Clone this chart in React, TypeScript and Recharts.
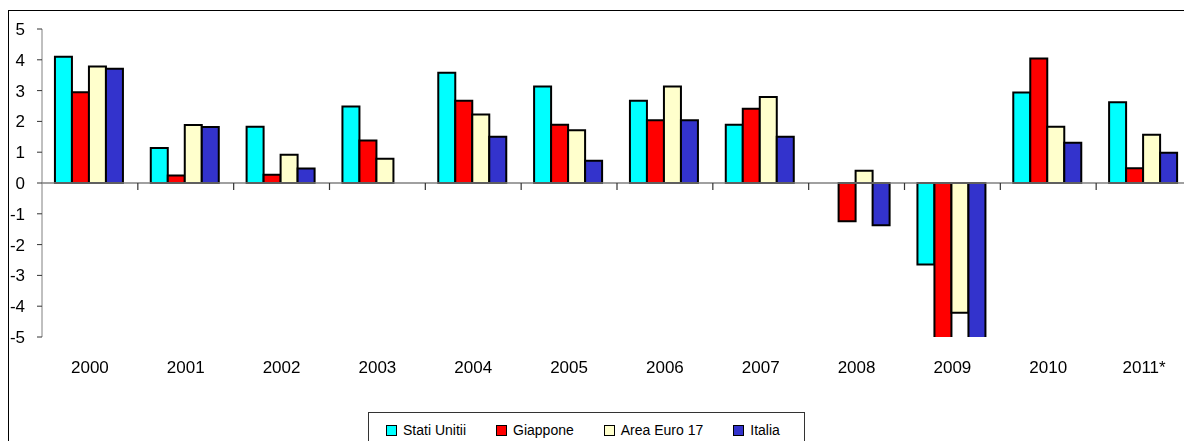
import React from 'react'
import { BarChart, Bar, XAxis, YAxis, ReferenceLine } from 'recharts'

const YEARS = ['2000', '2001', '2002', '2003', '2004', '2005', '2006', '2007', '2008', '2009', '2010', '2011*']

const statiUniti = [4.1, 1.14, 1.83, 2.48, 3.58, 3.13, 2.67, 1.89, 0, -2.65, 2.94, 2.62]
const giappone = [2.95, 0.24, 0.27, 1.38, 2.67, 1.89, 2.04, 2.41, -1.24, -6.3, 4.04, 0.48]
const areaEuro = [3.78, 1.88, 0.92, 0.79, 2.22, 1.71, 3.13, 2.79, 0.4, -4.21, 1.83, 1.57]
const italia = [3.71, 1.82, 0.47, 0, 1.5, 0.72, 2.04, 1.5, -1.37, -5.5, 1.31, 0.98]

const Y_TICKS = [-5, -4, -3, -2, -1, 0, 1, 2, 3, 4, 5]

const SERIES = [
  { key: 'us', name: 'Stati Unitii', color: '#00ffff' },
  { key: 'jp', name: 'Giappone', color: '#ff0000' },
  { key: 'eu', name: 'Area Euro 17', color: '#ffffcc' },
  { key: 'it', name: 'Italia', color: '#3333cc' },
]

const data = YEARS.map((year, i) => ({
  year,
  us: statiUniti[i],
  jp: giappone[i],
  eu: areaEuro[i],
  it: italia[i],
}))

const FONT = '"Liberation Sans", Arial, sans-serif'
const AXIS_GRAY = '#808080'

// zero line with little category separator ticks hanging below it
function ZeroLine(props: any) {
  const { x1, y1, x2, y2 } = props
  const step = (x2 - x1) / YEARS.length
  return (
    <g>
      <line x1={x1} y1={y1} x2={x2} y2={y2} stroke={AXIS_GRAY} strokeWidth={1.5} />
      {YEARS.slice(1).map((_, i) => {
        const x = x1 + step * (i + 1)
        return <line key={i} x1={x} y1={y1} x2={x} y2={y1 + 7} stroke="#333" strokeWidth={1.2} />
      })}
    </g>
  )
}

export default function App() {
  return (
    <div style={{ fontFamily: FONT }}>
      <div
        style={{
          position: 'fixed',
          left: 8,
          top: 10,
          width: 1300,
          height: 600,
          borderLeft: '1.5px solid #000',
          borderTop: '1.5px solid #000',
        }}
      />
      <div style={{ position: 'fixed', left: 0, top: 0, width: 1184, height: 441, overflow: 'hidden' }}>
        <BarChart
          width={1200}
          height={441}
          data={data}
          margin={{ top: 29, right: 8, left: 0, bottom: 74 }}
          barCategoryGap="13.5%"
          barGap={0}
        >
          <XAxis
            dataKey="year"
            height={30}
            axisLine={false}
            tickLine={false}
            tickSize={0}
            tickMargin={24}
            interval={0}
            tick={{ fill: '#000', fontSize: 17, fontFamily: FONT }}
          />
          <YAxis
            width={42}
            domain={[-5, 5]}
            ticks={Y_TICKS}
            allowDataOverflow
            interval={0}
            tickSize={5}
            tickMargin={12}
            stroke={AXIS_GRAY}
            tickLine={{ stroke: '#333' }}
            tick={{ fill: '#000', fontSize: 17, fontFamily: FONT }}
          />
          <ReferenceLine y={0} shape={ZeroLine} />
          {SERIES.map((s) => (
            <Bar
              key={s.key}
              dataKey={s.key}
              name={s.name}
              fill={s.color}
              stroke="#000"
              strokeWidth={2}
              isAnimationActive={false}
            />
          ))}
        </BarChart>
      </div>
      <div
        style={{
          position: 'fixed',
          left: 368,
          top: 412,
          width: 437,
          height: 60,
          border: '1px solid #333',
          boxSizing: 'border-box',
          background: '#fff',
          display: 'flex',
          alignItems: 'flex-start',
          paddingLeft: 17,
          paddingTop: 9,
          gap: 30,
          fontSize: 14,
          color: '#000',
        }}
      >
        {SERIES.map((s) => (
          <div key={s.key} style={{ display: 'flex', alignItems: 'center', gap: 6 }}>
            <span
              style={{
                display: 'inline-block',
                width: 9,
                height: 9,
                background: s.color,
                border: '1.5px solid #000',
              }}
            />
            <span>{s.name}</span>
          </div>
        ))}
      </div>
    </div>
  )
}
